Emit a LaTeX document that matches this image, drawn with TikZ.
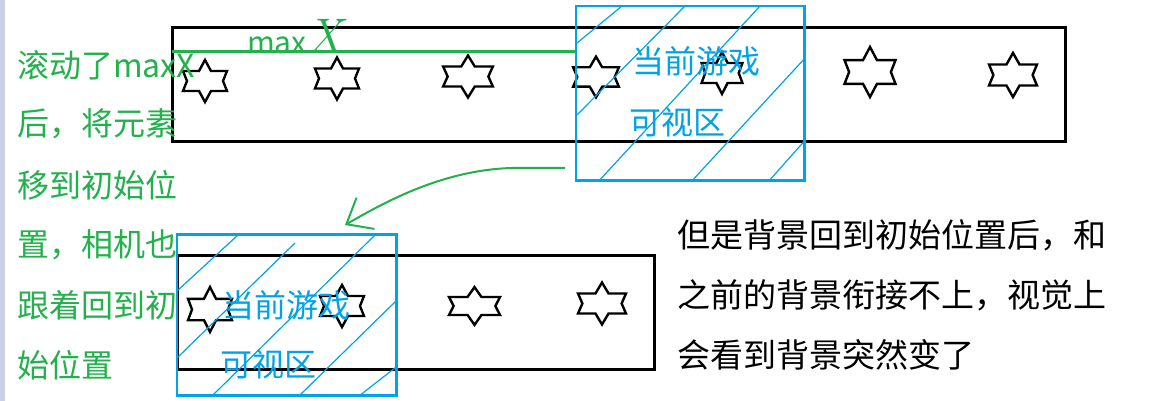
\documentclass[tikz,border=0pt]{standalone}
\usepackage{fontspec}
\newfontfamily\cjk{Noto Sans CJK SC}
\usetikzlibrary{arrows.meta,fit}
\definecolor{pgreen}{RGB}{34,177,76}
\definecolor{pblue}{RGB}{0,162,232}
\definecolor{stripc}{RGB}{200,210,228}
\begin{document}
\begin{tikzpicture}[x=1pt,y=-1pt,
  strip/.style={draw=black, line width=3pt, inner sep=0pt},
  viewbox/.style={draw=pblue, line width=2.6pt, inner sep=0pt},
  hatch/.style={draw=pblue, line width=1.2pt},
  cjktext/.style={font=\cjk\fontsize{32}{32}\selectfont, inner sep=0pt, anchor=west},
  greentext/.style={cjktext, text=pgreen},
  bluetext/.style={cjktext, text=pblue},
  blacktext/.style={cjktext, text=black, font=\cjk\fontsize{33}{33}\selectfont},
  hexstar/.pic={\draw[line width=2.4pt, line join=miter]
     (0,-21) -- (6,-10) -- (22,-10) -- (18,0) -- (22,10) -- (6,10) -- (0,21)
     -- (-6,10) -- (-22,10) -- (-18,0) -- (-22,-10) -- (-6,-10) -- cycle;}
]
\useasboundingbox (0,0) rectangle (1157,401);
\fill[white] (0,0) rectangle (1157,401);
\fill[stripc] (0,0) rectangle (5,401);

% strips
\coordinate (ta) at (172.5,27.5);
\coordinate (tb) at (1065,141.5);
\node[strip, fit=(ta)(tb)] (topstrip) {};
\coordinate (ba) at (177,255.3);
\coordinate (bb) at (654.7,369.5);
\node[strip, fit=(ba)(bb)] (botstrip) {};

% stars top row
\pic at (205,81) {hexstar};
\pic at (337,78.5) {hexstar};
\pic[xscale=1.13] at (468,76.5) {hexstar};
\pic[xscale=1.04,yscale=0.97] at (596,77) {hexstar};
\pic[xscale=0.93] at (722,73) {hexstar};
\pic[xscale=1.16,yscale=1.19] at (870,72) {hexstar};
\pic[xscale=1.09,yscale=1.05] at (1013,75) {hexstar};
% stars bottom row
\pic[yscale=1.07] at (210,309.5) {hexstar};
\pic at (342,306) {hexstar};
\pic[xscale=1.16,yscale=0.9] at (474.5,306) {hexstar};
\pic[xscale=1.09] at (602,303.5) {hexstar};

% green maxX line
\coordinate (gl) at (172,51.3);
\coordinate (gr) at (576,51.3);
\draw[pgreen, line width=2.6pt] (gl) -- (gr);
\node[text=pgreen, anchor=base west, inner sep=0pt] (maxlabel) at (247,54)
  {{\cjk\fontsize{30}{30}\selectfont max}{\itshape\fontsize{50}{50}\selectfont X}};

% view boxes
\coordinate (va) at (576,6.2);
\coordinate (vb) at (804.7,180.3);
\node[viewbox, fit=(va)(vb)] (topview) {};
\begin{scope}
  \clip (va) rectangle (vb);
  \draw[hatch] (577,43) -- (622,6);
  \draw[hatch] (577,115) -- (685,6);
  \draw[hatch] (597,183) -- (760,6);
  \draw[hatch] (690,183) -- (806,57);
  \draw[hatch] (768,182) -- (808,137);
\end{scope}
\coordinate (wa) at (177,234.7);
\coordinate (wb) at (396.3,395.3);
\node[viewbox, fit=(wa)(wb)] (botview) {};
\begin{scope}
  \clip (wa) rectangle (wb);
  \draw[hatch] (177,291) -- (238,235);
  \draw[hatch] (177,358) -- (295,243);
  \draw[hatch] (212,396) -- (375,235);
  \draw[hatch] (299,396) -- (397,300);
  \draw[hatch] (359,396) -- (400,364);
\end{scope}

% blue texts
\node[bluetext] (tv1) at (632,61) {当前游戏};
\node[bluetext] (tv2) at (629,122) {可视区};
\node[bluetext] (bv1) at (222,305) {当前游戏};
\node[bluetext] (bv2) at (220,364) {可视区};

% left green text
\node[greentext] (l1) at (17,65) {滚动了maxX};
\node[greentext] (l2) at (17,124) {后，将元素};
\node[greentext] (l3) at (17,185) {移到初始位};
\node[greentext] (l4) at (17,245) {置，相机也};
\node[greentext] (l5) at (17,305) {跟着回到初};
\node[greentext] (l6) at (17,365) {始位置};

% right black text
\node[blacktext] (r1) at (677,235) {但是背景回到初始位置后，和};
\node[blacktext] (r2) at (677,295) {之前的背景衔接不上，视觉上};
\node[blacktext] (r3) at (677,355) {会看到背景突然变了};

% arrow
\coordinate (as) at (565,168);
\coordinate (ae) at (345,225);
\draw[pgreen, line width=2pt, -{Straight Barb[length=22pt,width=36pt,line width=2pt]}]
  (as) -- (512,168) .. controls (440,170) and (380,205) .. (ae);
\end{tikzpicture}
\end{document}
